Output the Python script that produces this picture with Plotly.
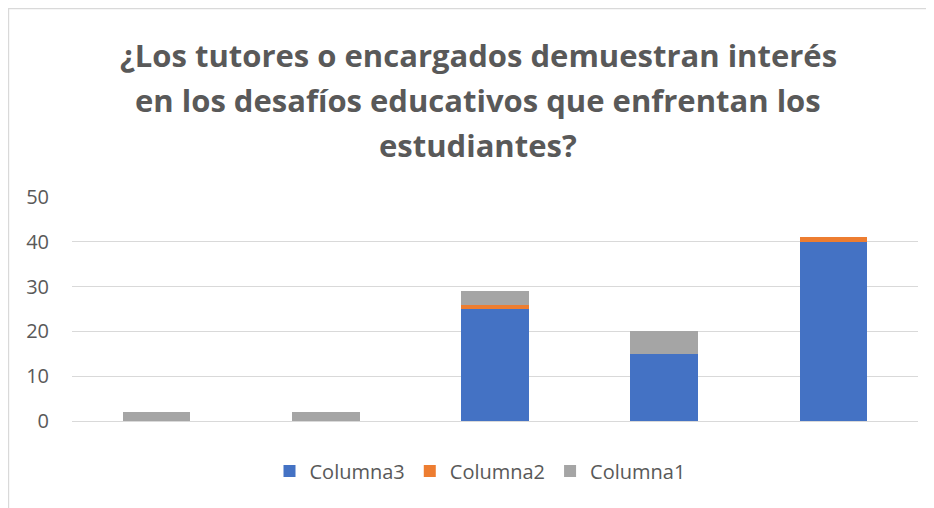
import plotly.graph_objects as go

categories = ["1", "2", "3", "4", "5"]
columna3 = [0, 0, 25, 15, 40]
columna2 = [0, 0, 1, 0, 1]
columna1 = [2, 2, 3, 5, 0]
y_ticks = [0, 10, 20, 30, 40, 50]

title_lines = ["¿Los tutores o encargados demuestran interés",
               "en los desafíos educativos que enfrentan los",
               "estudiantes?"]

FONT = "Open Sans, sans-serif"
TXT = "#595959"

fig = go.Figure()
for name, vals, col in [("Columna3", columna3, "#4472C4"),
                        ("Columna2", columna2, "#ED7D31"),
                        ("Columna1", columna1, "#A5A5A5")]:
    fig.add_trace(go.Bar(x=categories, y=vals, name=name,
                         marker=dict(color=col, line=dict(width=0))))

# the page has an 8px body margin; figure pixel = screen pixel - 8
W, H = 926, 500
L, R, T, B = 64, 16, 189, 87
pw = W - L - R
ph = H - T - B

def px_x(x):
    return (x - L) / pw

def px_y(y):
    return (H - B - y) / ph

annotations = []
for i, line in enumerate(title_lines):
    annotations.append(dict(text=line, xref="paper", yref="paper",
                            x=px_x(470), y=px_y(47 + 45 * i),
                            xanchor="center", yanchor="middle", showarrow=False,
                            font=dict(family=FONT, size=31, color=TXT, weight="bold")))

fig.update_layout(
    width=W, height=H,
    barmode="stack", bargap=0.6,
    plot_bgcolor="white", paper_bgcolor="white",
    margin=dict(l=L, r=R, t=T, b=B),
    font=dict(family=FONT, color=TXT, size=20),
    annotations=annotations,
    legend=dict(orientation="h", x=px_x(472), xanchor="center", y=px_y(463),
                yanchor="middle", traceorder="normal",
                font=dict(size=20, color=TXT), itemwidth=30),
    showlegend=True,
    xaxis=dict(showticklabels=False, showgrid=False, zeroline=False,
               showline=False, ticks=""),
    yaxis=dict(range=[0, 50], tickvals=y_ticks, showgrid=True,
               gridcolor="#D9D9D9", gridwidth=1, zeroline=True,
               zerolinecolor="#D9D9D9", zerolinewidth=1, showline=False,
               ticks="", ticklabelstandoff=22,
               tickfont=dict(size=20, color=TXT)),
    shapes=[dict(type="rect", xref="paper", yref="paper",
                 x0=px_x(0.6), x1=px_x(W + 20), y0=px_y(H + 20), y1=px_y(0.6),
                 line=dict(color="#D9D9D9", width=1.2),
                 fillcolor="rgba(0,0,0,0)", layer="below")],
)

fig.write_html("out.html")
